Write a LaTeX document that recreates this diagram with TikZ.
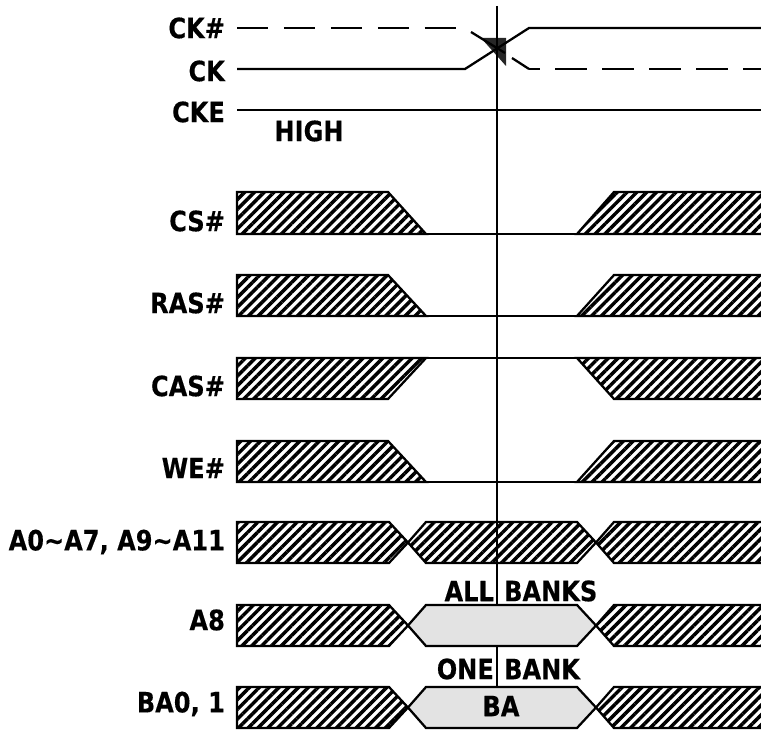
\documentclass[tikz,border=0pt]{standalone}
\usepackage{xcolor}
\usepackage{fontspec}
\setmainfont[FakeStretch=0.86, BoldFeatures={FakeStretch=0.86, FakeBold=0.3}]{DejaVu Sans}
\usetikzlibrary{patterns.meta}
\definecolor{bankgrey}{rgb}{0.89, 0.89, 0.89}
\begin{document}
\begin{tikzpicture}[x=0.75pt, y=-0.75pt, line width=1.7pt]
		\tikzstyle{signame}=[anchor=east, font=\bfseries\fontsize{21}{21}\selectfont, text=black, inner sep=0pt]
		\tikzstyle{banktext}=[font=\bfseries\fontsize{21}{21}\selectfont, text=black, inner sep=0pt]
		\tikzstyle{hatch}=[draw=black, pattern={Lines[angle=45, distance=5.2pt, line width=2.6pt]}, pattern color=black]
		\tikzstyle{valid}=[draw=black, fill=bankgrey]
		
		\useasboundingbox (0,0) rectangle (761,731);
		
		%% clock
		\fill[black!85] (481,38) -- (506,38) -- (506,66) -- cycle;
		\draw[dash pattern=on 23.6pt off 11.6pt] (237,28) -- (457,28);
		\draw (471,32) -- (505,53) (512,58) -- (529,69);
		\draw[dash pattern=on 23.6pt off 11.6pt, dash phase=15.4pt] (529,69) -- (761,69);
		\draw (237,69) -- (465,69) -- (529,28) -- (761,28);
		\draw (237,110) -- (761,110);
		
		%% command lines
		\draw[hatch] (237,192) -- (388,192) -- (426,234) -- (237,234) -- cycle;
		\draw (426,234) -- (577,234);
		\draw[hatch] (761,192) -- (614,192) -- (577,234) -- (761,234);
		
		\draw[hatch] (237,275) -- (388,275) -- (426,316) -- (237,316) -- cycle;
		\draw (426,316) -- (577,316);
		\draw[hatch] (761,275) -- (614,275) -- (577,316) -- (761,316);
		
		\draw[hatch] (237,358) -- (426,358) -- (388,399) -- (237,399) -- cycle;
		\draw (426,358) -- (577,358);
		\draw[hatch] (761,358) -- (577,358) -- (614,399) -- (761,399);
		
		\draw[hatch] (237,441) -- (388,441) -- (426,482) -- (237,482) -- cycle;
		\draw (426,482) -- (577,482);
		\draw[hatch] (761,441) -- (614,441) -- (577,482) -- (761,482);
		
		%% clock edge line
		\draw (497,6) -- (497,687);
		
		%% address lines
		\foreach \rowtop/\rowmid/\rowbot/\midstyle in {522/542.5/563/hatch, 605/625.5/646/valid, 687/707.5/728/valid} {
			\draw[hatch] (237,\rowtop) -- (389,\rowtop) -- (408,\rowmid) -- (389,\rowbot) -- (237,\rowbot) -- cycle;
			\draw[\midstyle] (408,\rowmid) -- (426,\rowtop) -- (577,\rowtop) -- (596,\rowmid) -- (577,\rowbot) -- (426,\rowbot) -- cycle;
			\draw[hatch] (761,\rowtop) -- (614,\rowtop) -- (596,\rowmid) -- (614,\rowbot) -- (761,\rowbot);
		}
		
		\node[signame] (ckn) at (226,28) {CK\#};
		\node[signame] (ck) at (226,71) {CK};
		\node[signame] (cke) at (226,112) {CKE};
		\node[banktext] (high) at (309,131) {HIGH};
		\node[signame] (csn) at (226,221) {CS\#};
		\node[signame] (rasn) at (226,303) {RAS\#};
		\node[signame] (casn) at (226,386) {CAS\#};
		\node[signame] (wen) at (226,468) {WE\#};
		\node[signame] (addr) at (226,542) {A0\textasciitilde A7, A9\textasciitilde A11};
		\node[signame] (aeight) at (226,620) {A8};
		\node[signame] (bank) at (226,704) {BA0, 1};
		\node[banktext, anchor=east] (allb) at (495,591) {ALL};
		\node[banktext, anchor=west] (banks) at (503,591) {BANKS};
		\node[banktext, anchor=east] (oneb) at (495,669) {ONE};
		\node[banktext, anchor=west] (onebank) at (503,669) {BANK};
		\node[banktext] (ba) at (501,706) {BA};
		
		\end{tikzpicture}
\end{document}
